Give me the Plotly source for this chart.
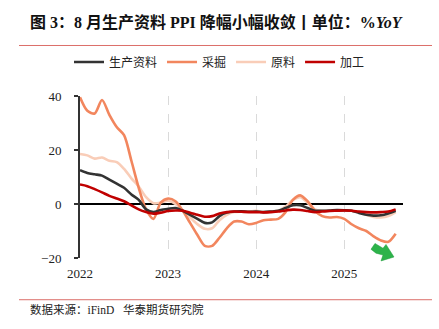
import plotly.graph_objects as go

# ---- data (monthly, Jan 2022 .. Aug 2025) ----
months = list(range(44))
year_ticks = [0, 12, 24, 36]
year_labels = ["2022", "2023", "2024", "2025"]

prod_means = [12.5, 11.5, 11, 10.5, 9, 7.5, 6, 3.5, 1.5, -2, -3, -2.2, -1.8, -1.5, -2.5, -4,
              -5.5, -7, -6.8, -4.5, -3.2, -2.8, -2.7, -2.9, -2.8, -3, -2.8, -2.5, -1.5, -0.5,
              -0.5, -1.5, -2.5, -2.5, -2.4, -2.2, -2.3, -2.5, -3.3, -4, -4.3, -4.2, -3.5, -2.5]
mining = [39.5, 34.5, 33.5, 38.5, 33, 28.5, 25.5, 16, 6, -2, -5.5, 0.5, 2, 1, -2.5, -7,
          -11.5, -15.5, -15.5, -12.5, -9, -6.5, -6.5, -7.5, -7, -6, -5.8, -5.5, -3, 1.5,
          3.2, 1, -2.5, -4.5, -5, -4.8, -5.5, -7.5, -9, -10, -12, -13.5, -14, -11]
raw = [18.5, 18, 16.8, 17.2, 16, 15.5, 13, 9.5, 6.5, 2.5, 0.3, 0.5, 1.2, 0, -2.5, -5,
       -7.5, -9.2, -9, -6, -4, -3, -2.8, -2.8, -2.5, -3, -2.8, -2.5, -1, 1.5,
       2.5, 0.5, -2, -2.5, -2.5, -2.3, -2.5, -2.5, -3, -4, -4.8, -5, -4.5, -3]
processing = [7.2, 6.6, 5.5, 4.3, 3, 2, 1, -0.5, -2, -3, -3.6, -3.2, -2.6, -2.4, -2.5, -3.2,
              -4, -4.7, -4.5, -3.5, -3, -2.8, -2.9, -3, -3, -3.1, -3, -2.8, -2.4, -2.1,
              -2.2, -2.6, -3, -2.8, -2.6, -2.5, -2.4, -2.5, -2.8, -3, -3.1, -3, -2.8, -2]

series_names = ["生产资料", "采掘", "原料", "加工"]
series_values = [prod_means, mining, raw, processing]
series_colors = ["#333333", "#F2865E", "#F9CDB8", "#C00000"]

W, H = 439, 329
L, R, T, B = 80, 403, 91, 258  # plot area in pixels


def px(x, y):
    return (x - L) / (R - L), (B - y) / (B - T)


fig = go.Figure()
order = [2, 1, 0, 3]
for i in order:
    fig.add_trace(go.Scatter(x=months, y=series_values[i], mode="lines", name=series_names[i],
                             legendrank=i,
                             line=dict(color=series_colors[i], width=2.6, shape="spline", smoothing=0.8)))

font_serif = "Liberation Serif"
mixed = "Liberation Serif, Noto Sans CJK SC"
fig.update_layout(
    width=W, height=H,
    margin=dict(l=L, r=W - R, t=T, b=H - B),
    paper_bgcolor="white", plot_bgcolor="white",
    showlegend=True,
    legend=dict(orientation="h", x=0.5, xanchor="center", xref="container",
                y=(H - 62) / H, yref="container", yanchor="middle",
                font=dict(family="Noto Sans CJK SC", size=12, color="#222"),
                itemwidth=30, tracegroupgap=0),
    xaxis=dict(range=[0, 44], tickvals=year_ticks, ticktext=year_labels,
               showgrid=True, gridcolor="#DADADA", griddash="dash", gridwidth=1,
               zeroline=False, showline=False, ticks="", ticklabelstandoff=6,
               tickfont=dict(family=font_serif, size=13, color="#222")),
    yaxis=dict(range=[-20, 40], tickvals=[-20, 0, 20, 40], showgrid=False,
               zeroline=True, zerolinecolor="#000000", zerolinewidth=1.5,
               showline=True, linecolor="#333333", linewidth=2,
               ticks="outside", ticklen=4, tickcolor="#333333", tickwidth=1.5,
               ticklabelstandoff=10,
               tickfont=dict(family=font_serif, size=13, color="#222")),
)

# title
fig.add_annotation(xref="paper", yref="paper", x=px(28, 0)[0], y=px(0, 15)[1],
                   xanchor="left", yanchor="middle", showarrow=False,
                   text="<b>图 3：8 月生产资料 PPI 降幅小幅收敛丨单位：%<i>YoY</i></b>",
                   font=dict(family=mixed, size=16, color="#111"))
# separator lines
for yy in (39, 301):
    x0, y0 = px(19, yy)
    x1, _ = px(432, yy)
    fig.add_shape(type="line", xref="paper", yref="paper", x0=x0, x1=x1, y0=y0, y1=y0,
                  line=dict(color="#DC6F6A", width=1))
# source
fig.add_annotation(xref="paper", yref="paper", x=px(28, 0)[0], y=px(0, 311)[1],
                   xanchor="left", yanchor="middle", showarrow=False,
                   text="数据来源：iFinD   华泰期货研究院",
                   font=dict(family=mixed, size=11.5, color="#222"))

# green arrow (decoration)
pts = [(371, 249), (375, 243), (383, 248), (386, 244), (394, 257), (381, 261), (383, 255), (376, 253)]
path = "M " + " L ".join(f"{px(a, b)[0]:.4f},{px(a, b)[1]:.4f}" for a, b in pts) + " Z"
fig.add_shape(type="path", xref="paper", yref="paper", path=path,
              fillcolor="#2DB34A", line=dict(color="#1E9A3A", width=0.5))

fig.write_html("out.html")
